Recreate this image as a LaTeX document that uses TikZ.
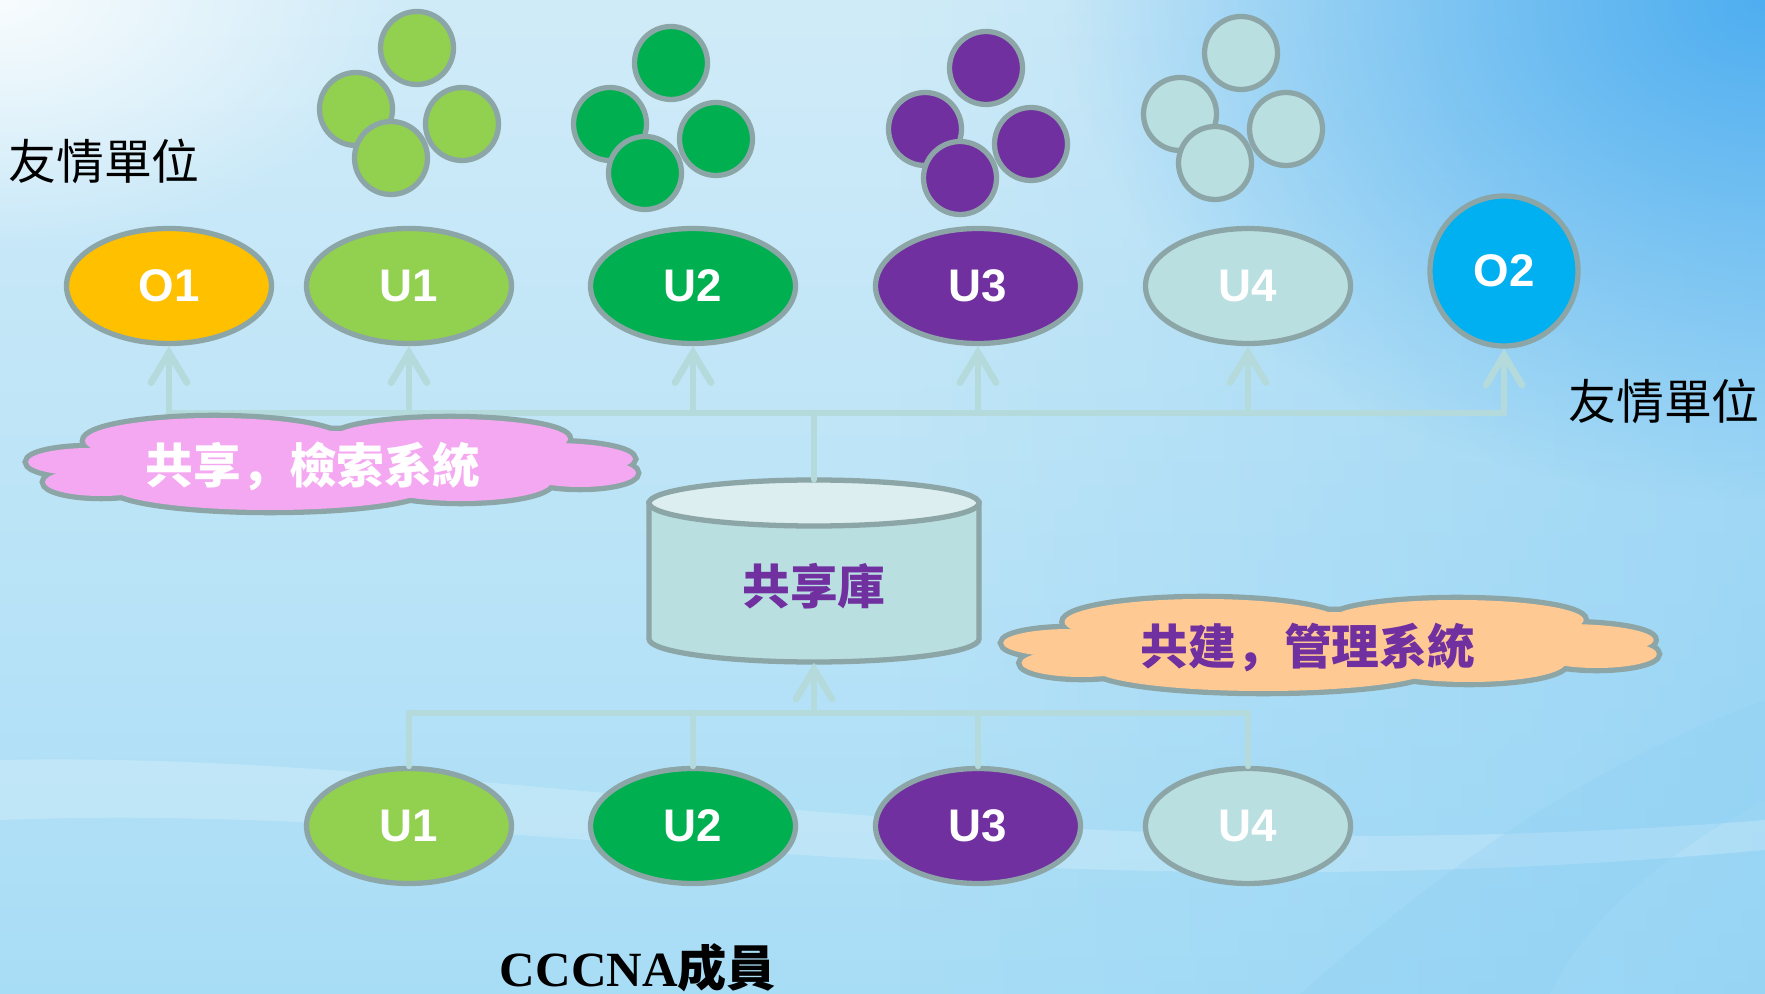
\documentclass[tikz,border=0pt]{standalone}
\usepackage{fontspec}
\usepackage{tikz}
\usetikzlibrary{shapes.geometric,arrows.meta,fadings}
\newfontfamily\cjk{Noto Sans CJK TC}
\newfontfamily\cjksc{Noto Sans CJK SC}
\newfontfamily\arialfont{Liberation Sans}
\newfontfamily\timesfont{Liberation Serif}

\definecolor{rim}{HTML}{8CA5A6}
\definecolor{linkc}{HTML}{B4DADC}
\definecolor{oone}{HTML}{FFC000}
\definecolor{uone}{HTML}{92D050}
\definecolor{utwo}{HTML}{00B050}
\definecolor{uthree}{HTML}{7030A0}
\definecolor{ufour}{HTML}{BADFE0}
\definecolor{otwo}{HTML}{00B0F0}
\definecolor{pinkc}{HTML}{F5A8F2}
\definecolor{peach}{HTML}{FFC993}
\definecolor{purpc}{HTML}{7030A0}
\definecolor{dbbody}{HTML}{B9DFE0}
\definecolor{dbtop}{HTML}{DCEEEF}
\definecolor{skytop}{HTML}{D0EBF8}
\definecolor{skybot}{HTML}{A8DDF6}
\definecolor{skymid}{HTML}{8CCFF4}
\definecolor{skydeep}{HTML}{4FAEF0}

\tikzfading[name=glow, inner color=transparent!0, outer color=transparent!100]
\tikzfading[name=toright, left color=transparent!100, right color=transparent!0]

% lobes of a cloud: x/y/x radius/y radius
\newcommand\cloudlobes{-1.18/0.23/1.29/0.23, 1.18/0.25/1.18/0.20, 2.20/0.05/0.81/0.16,
  2.48/-0.09/0.56/0.14, 1.29/-0.18/0.90/0.19, -0.62/-0.23/1.58/0.23,
  -2.42/0.02/0.62/0.14, -2.31/-0.18/0.56/0.14, 0/0/2.3/0.33}

\tikzset{
  unit/.style={ellipse, draw=rim, line width=1.5pt, minimum width=2.05cm, minimum height=1.15cm,
    text=white, font=\arialfont\bfseries\fontsize{13}{15}\selectfont},
  ball/.style={circle, draw=rim, line width=1.5pt, minimum size=0.73cm, inner sep=0pt},
  link/.style={draw=linkc, line width=1.9pt, line cap=round, line join=round},
  uparrow/.style={-{Straight Barb[length=0.3cm,width=0.36cm,line cap=round]}},
  lobe/.style={draw=rim, line width=3pt},
  cloudtext/.style={font=\cjk\bfseries\fontsize{13.6}{16}\selectfont},
  caption/.style={font=\cjk\fontsize{13.6}{16}\selectfont},
}

\begin{document}
\begin{tikzpicture}
\useasboundingbox (0,0) rectangle (17.65,-9.94);

% background
\fill[top color=skytop, bottom color=skybot] (0,0) rectangle (17.65,-9.94);
\fill[skymid, path fading=toright, opacity=0.6] (9,0) rectangle (17.65,-9.94);
\fill[skydeep, path fading=glow] (17.65,0) ellipse (7 and 5);
\fill[white, path fading=glow, opacity=0.85] (0,0) ellipse (4 and 2.5);
\fill[white, opacity=0.2] (0,-7.6) .. controls (5,-7.5) and (10,-8.8) .. (17.65,-8.2)
  -- (17.65,-8.5) .. controls (10,-9.2) and (5,-8.0) .. (0,-8.2) -- cycle;
\fill[skymid, opacity=0.25] (13.0,-9.94) .. controls (14.5,-8.6) and (16,-7.6) .. (17.65,-7.0)
  -- (17.65,-8.0) .. controls (16.5,-8.6) and (15.8,-9.3) .. (15.5,-9.94) -- cycle;

% friendly units
\node[caption] (fleft) at (1.04,-1.61) {友情單位};
\node[caption] (fright) at (16.64,-4.01) {友情單位};

% small balls above the top row
\foreach \x/\y/\c in {4.17/-0.48/uone, 6.71/-0.63/utwo, 9.86/-0.68/uthree, 12.41/-0.53/ufour}{
  \node[ball, fill=\c] (\c a) at (\x,\y) {};
  \node[ball, fill=\c] (\c b) at (\x-0.61,\y-0.61) {};
  \node[ball, fill=\c] (\c c) at (\x+0.45,\y-0.76) {};
  \node[ball, fill=\c] (\c d) at (\x-0.26,\y-1.10) {};
}

% top row
\node[unit, fill=oone] (o1) at (1.69,-2.86) {O1};
\node[unit, fill=uone] (tu1) at (4.09,-2.86) {U1};
\node[unit, fill=utwo] (tu2) at (6.93,-2.86) {U2};
\node[unit, fill=uthree] (tu3) at (9.78,-2.86) {U3};
\node[unit, fill=ufour] (tu4) at (12.48,-2.86) {U4};
\node[unit, fill=otwo, minimum width=1.48cm, minimum height=1.50cm] (o2) at (15.04,-2.71) {O2};

% bottom row
\node[unit, fill=uone] (bu1) at (4.09,-8.26) {U1};
\node[unit, fill=utwo] (bu2) at (6.93,-8.26) {U2};
\node[unit, fill=uthree] (bu3) at (9.78,-8.26) {U3};
\node[unit, fill=ufour] (bu4) at (12.48,-8.26) {U4};
\node[font=\fontsize{14}{16}\selectfont] (members) at (6.38,-9.68) {\timesfont\bfseries CCCNA\cjk 成員};

% shared database
\filldraw[draw=rim, line width=1.5pt, fill=dbbody] (6.49,-5.03) -- (6.49,-6.39)
  arc[start angle=180, end angle=360, x radius=1.65, y radius=0.23] -- (9.79,-5.03) -- cycle;
\filldraw[draw=rim, line width=1.5pt, fill=dbtop] (8.14,-5.03) ellipse [x radius=1.65, y radius=0.23];
\node[minimum width=3.31cm, minimum height=1.82cm, text height=0.74cm, text depth=0.06cm,
  text=purpc, font=\cjk\bfseries\fontsize{13.6}{16}\selectfont] (db) at (8.14,-5.71) {共享庫};

% connectors
\coordinate (topbus) at (8.14,-4.13);
\coordinate (lowbus) at (8.14,-7.13);
\draw[link] (db.north) -- (topbus);
\draw[link] (o1.south |- topbus) -- (o2.south |- topbus);
\foreach \n in {o1,tu1,tu2,tu3,tu4,o2}
  \draw[link, uparrow] (\n.south |- topbus) -- (\n.south);
\draw[link] (bu1.north |- lowbus) -- (bu4.north |- lowbus);
\foreach \n in {bu1,bu2,bu3,bu4}
  \draw[link] (\n.north |- lowbus) -- (\n.north);
\draw[link, uparrow] (lowbus) -- (db.south);

% clouds
\begin{scope}[shift={(3.32,-4.64)}]
  \foreach \x/\y/\a/\b in \cloudlobes \filldraw[lobe, fill=pinkc] (\x,\y) ellipse [x radius=\a, y radius=\b];
  \foreach \x/\y/\a/\b in \cloudlobes \fill[pinkc] (\x,\y) ellipse [x radius=\a, y radius=\b];
\end{scope}
\begin{scope}[shift={(13.30,-6.45)}, xscale=1.075]
  \foreach \x/\y/\a/\b in \cloudlobes \filldraw[lobe, fill=peach] (\x,\y) ellipse [x radius=\a, y radius=\b];
  \foreach \x/\y/\a/\b in \cloudlobes \fill[peach] (\x,\y) ellipse [x radius=\a, y radius=\b];
\end{scope}
\node[cloudtext, text=white] (share) at (3.13,-4.66) {共享{\cjksc ，}檢索系統};
\node[cloudtext, text=purpc] (build) at (13.08,-6.48) {共建{\cjksc ，}管理系統};
\end{tikzpicture}
\end{document}
